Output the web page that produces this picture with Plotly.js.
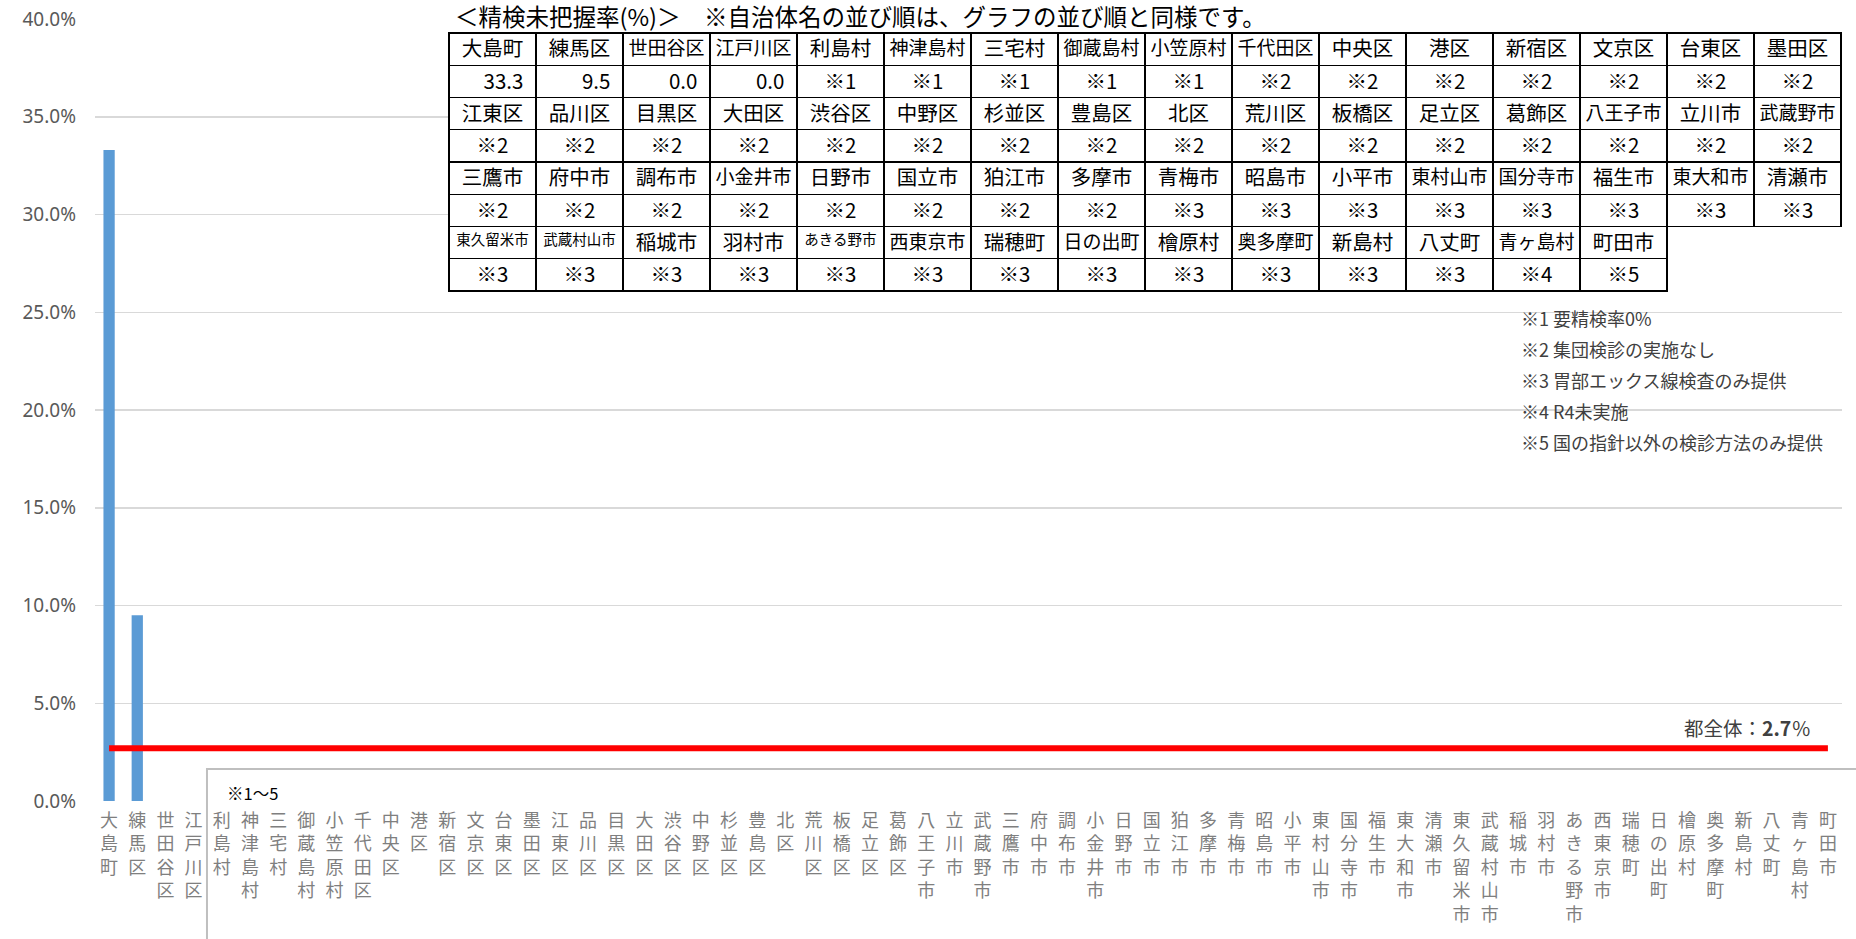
<!DOCTYPE html>
<html>
<head>
<meta charset="utf-8">
<script src="https://cdn.plot.ly/plotly-3.0.1.min.js"></script>
<style>
  html, body { margin: 0; padding: 0; background: #fff; }
  #chart { width: 1856px; height: 939px; }
</style>
</head>
<body>
<div id="chart"></div>
<script>
// Municipalities in chart order (same order as the table).
const municipalities = [
  "大島町", "練馬区", "世田谷区", "江戸川区", "利島村", "神津島村", "三宅村", "御蔵島村",
  "小笠原村", "千代田区", "中央区", "港区", "新宿区", "文京区", "台東区", "墨田区",
  "江東区", "品川区", "目黒区", "大田区", "渋谷区", "中野区", "杉並区", "豊島区",
  "北区", "荒川区", "板橋区", "足立区", "葛飾区", "八王子市", "立川市", "武蔵野市",
  "三鷹市", "府中市", "調布市", "小金井市", "日野市", "国立市", "狛江市", "多摩市",
  "青梅市", "昭島市", "小平市", "東村山市", "国分寺市", "福生市", "東大和市", "清瀬市",
  "東久留米市", "武蔵村山市", "稲城市", "羽村市", "あきる野市", "西東京市", "瑞穂町", "日の出町",
  "檜原村", "奥多摩町", "新島村", "八丈町", "青ヶ島村", "町田市"
];

// Unknown-follow-up rate (%) where available; the rest carry a note instead.
const rates = [33.3, 9.5, 0.0, 0.0];

// Note number for each municipality without a rate (from 利島村 onwards).
const noteCodes = [
  1, 1, 1, 1, 1,
  2, 2, 2, 2, 2, 2, 2,
  2, 2, 2, 2, 2, 2, 2, 2, 2, 2, 2, 2, 2, 2, 2, 2,
  2, 2, 2, 2, 2, 2, 2, 2,
  3, 3, 3, 3, 3, 3, 3, 3,
  3, 3, 3, 3, 3, 3, 3, 3, 3, 3, 3, 3,
  4, 5
];

const noteTexts = [
  "※1 要精検率0%",
  "※2 集団検診の実施なし",
  "※3 胃部エックス線検査のみ提供",
  "※4 R4未実施",
  "※5 国の指針以外の検診方法のみ提供"
];

const tokyoOverall = 2.7;

const tableTitle = "＜精検未把握率(%)＞　※自治体名の並び順は、グラフの並び順と同様です。";
const boxLabel = "※1～5";

// ---- build series ----
const barValues = municipalities.map((m, i) => (i < rates.length ? rates[i] : null));
const tableTexts = municipalities.map((m, i) =>
  i < rates.length ? rates[i].toFixed(1) + "\u00a0" : "※" + noteCodes[i - rates.length]);

const tickText = municipalities.map(m => m.split("").join("<br>"));

// ---- table: 16 columns, name rows alternating with value rows ----
const nCols = 16;
const nBlocks = Math.ceil(municipalities.length / nCols);
function nameSize(name) {
  if (name.length >= 5) return 14.5;
  if (name.length === 4) return 19;
  return 20.5;
}

const headerValues = [], headerSizes = [];
const cellValues = [], cellAlign = [], cellSizes = [], cellLineW = [], cellFill = [];
for (let c = 0; c < nCols; c++) {
  headerValues.push(municipalities[c]);
  headerSizes.push(nameSize(municipalities[c]));
  const vals = [], al = [], sz = [], lw = [], fl = [];
  for (let b = 0; b < nBlocks; b++) {
    const idx = b * nCols + c;
    const exists = idx < municipalities.length;
    if (b > 0) {
      vals.push(exists ? municipalities[idx] : "");
      al.push("center");
      sz.push(exists ? nameSize(municipalities[idx]) : 18);
      lw.push(exists ? 1.3 : 0);
      fl.push(exists ? "#ffffff" : "rgba(0,0,0,0)");
    }
    vals.push(exists ? tableTexts[idx] : "");
    al.push(exists && idx < rates.length ? "right" : "center");
    sz.push(20.5);
    lw.push(exists ? 1.3 : 0);
    fl.push(exists ? "#ffffff" : "rgba(0,0,0,0)");
  }
  cellValues.push(vals); cellAlign.push(al); cellSizes.push(sz);
  cellLineW.push(lw); cellFill.push(fl);
}

const barTrace = {
  type: "bar",
  x: municipalities,
  y: barValues,
  marker: { color: "#5B9BD5" },
  hoverinfo: "x+y"
};

const overallTrace = {
  type: "scatter",
  mode: "lines",
  x: [municipalities[0], municipalities[municipalities.length - 1]],
  y: [tokyoOverall, tokyoOverall],
  line: { color: "#FF0000", width: 6 },
  hoverinfo: "skip"
};

const tableTrace = {
  type: "table",
  domain: { x: [0.2026, 0.9995], y: [0.62, 0.982] },
  header: {
    values: headerValues,
    align: "center",
    height: 32.25,
    line: { color: "#000000", width: 1.3 },
    fill: { color: "#ffffff" },
    font: { family: "Noto Sans CJK JP", size: headerSizes, color: "#000000" }
  },
  cells: {
    values: cellValues,
    align: cellAlign,
    height: 32.25,
    line: { color: "#000000", width: cellLineW },
    fill: { color: cellFill },
    font: { family: "Noto Sans CJK JP", size: cellSizes, color: "#000000" }
  }
};

const annotations = [
  {
    xref: "paper", yref: "paper", x: 0.205, y: 1.004,
    xanchor: "left", yanchor: "middle", showarrow: false,
    text: tableTitle,
    font: { family: "Noto Sans CJK JP", size: 23.5, color: "#000000" }
  },
  {
    xref: "paper", yref: "y", x: 0.9834, y: tokyoOverall,
    xanchor: "right", yanchor: "bottom", yshift: 4, showarrow: false,
    text: "都全体：<b>2.7</b>％",
    font: { family: "Noto Sans CJK JP", size: 19.5, color: "#404040" }
  },
  {
    xref: "paper", yref: "paper", x: 0.0744, y: 0.0102,
    xanchor: "left", yanchor: "middle", showarrow: false,
    text: boxLabel,
    font: { family: "Noto Sans CJK JP", size: 16.5, color: "#000000" }
  }
];
noteTexts.forEach((t, i) => {
  annotations.push({
    xref: "paper", yref: "paper", x: 0.815, y: 0.618 - i * 0.0397,
    xanchor: "left", yanchor: "middle", showarrow: false,
    text: t,
    font: { family: "Noto Sans CJK JP", size: 18, color: "#404040" }
  });
});

const layout = {
  width: 1856,
  height: 939,
  margin: { l: 95, r: 14, t: 19, b: 138 },
  paper_bgcolor: "#ffffff",
  plot_bgcolor: "#ffffff",
  showlegend: false,
  bargap: 0.6,
  font: { family: "Noto Sans CJK JP", color: "#595959" },
  xaxis: {
    type: "category",
    tickmode: "array",
    tickvals: municipalities,
    ticktext: tickText,
    tickangle: 0,
    tickfont: { family: "Noto Sans CJK JP", size: 18, color: "#7f7f7f" },
    ticklabelstandoff: 7,
    showgrid: false,
    showline: false,
    ticks: "",
    automargin: false
  },
  yaxis: {
    range: [0, 40],
    dtick: 5,
    tickformat: ".1f",
    ticksuffix: "%",
    tickfont: { family: "Noto Sans, sans-serif", size: 19, color: "#595959" },
    gridcolor: "#d9d9d9",
    gridwidth: 1.5,
    zeroline: false,
    showline: false,
    ticks: "",
    ticklabelstandoff: 18,
    automargin: false
  },
  shapes: [
    {
      type: "rect", xref: "paper", yref: "paper", layer: "above",
      x0: 0.2009, x1: 1.01, y0: 0.99, y1: 1.03,
      fillcolor: "#ffffff", line: { width: 0 }
    },
    {
      type: "rect", xref: "paper", yref: "paper", layer: "above",
      x0: 0.0641, x1: 1.02, y0: 0.041, y1: -0.2,
      fillcolor: "rgba(0,0,0,0)", line: { color: "#bfbfbf", width: 2 }
    }
  ],
  annotations: annotations
};

Plotly.newPlot("chart", [barTrace, overallTrace, tableTrace], layout, { displayModeBar: false, staticPlot: true });
</script>
</body>
</html>
